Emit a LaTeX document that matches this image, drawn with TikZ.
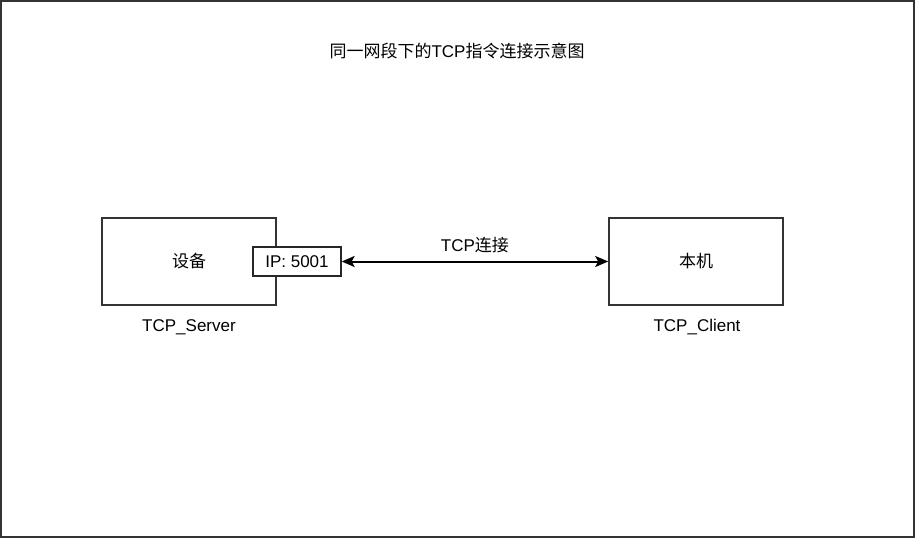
\documentclass[tikz,border=0pt]{standalone}
\usepackage{fontspec}
\setmainfont{Liberation Sans}
\newfontfamily\cjk{Noto Sans CJK SC}
\usetikzlibrary{arrows.meta}
\begin{document}
\begin{tikzpicture}[x=1pt,y=-1pt,
  box/.style={draw=black!80,line width=1.6pt,fill=white,minimum width=174pt,minimum height=87pt,inner sep=0pt},
  portbox/.style={draw=black!85,line width=1.3pt,fill=white,minimum width=88pt,minimum height=29pt,inner sep=0pt},
  lbl/.style={font=\fontsize{17}{20}\selectfont,inner sep=0pt},
  tip/.style={Stealth[length=13pt,width=11pt,inset=3pt]},
  conn/.style={line width=2pt,{Stealth[length=13pt,width=11pt,inset=3pt]}-{Stealth[length=13pt,width=11pt,inset=3pt]}}]
\useasboundingbox (0,0) rectangle (915,538);
\draw[black!80,line width=1.8pt] (1,1) rectangle (914,537);
\node[lbl] (title) at (457,51) {\cjk 同一网段下的\rmfamily TCP\cjk 指令连接示意图};
\node[box] (dev) at (189,261.5) {};
\node[lbl] at (dev.center) {\cjk 设备};
\node[portbox] (ip) at (297,261.5) {};
\node[lbl] at (ip.center) {IP: 5001};
\node[box] (host) at (696,261.5) {};
\node[lbl] at (host.center) {\cjk 本机};
\node[lbl] (srv) at (189,327) {TCP\_Server};
\node[lbl] (cli) at (697,327) {TCP\_Client};
\draw[conn] (ip.east) -- (host.west) node[midway,above=8pt,lbl] {TCP\cjk 连接};
\end{tikzpicture}
\end{document}
